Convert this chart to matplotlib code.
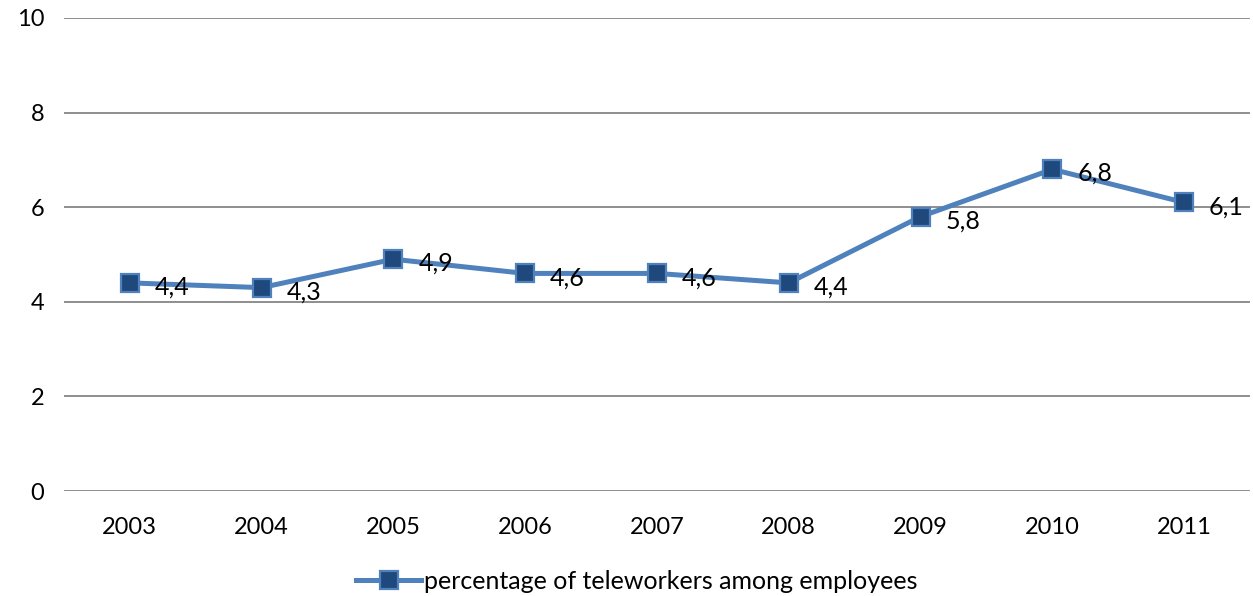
import matplotlib
matplotlib.use('Agg')
import matplotlib.pyplot as plt

plt.rcParams['font.family'] = ['Lato', 'DejaVu Sans']

years = ['2003', '2004', '2005', '2006', '2007', '2008', '2009', '2010', '2011']
share = [4.4, 4.3, 4.9, 4.6, 4.6, 4.4, 5.8, 6.8, 6.1]
yticks = [0, 2, 4, 6, 8, 10]
seriesName = 'percentage of teleworkers among employees'

lineColor = '#4F81BD'
markerColor = '#1F497D'
gridColor = '#868686'

fig = plt.figure(figsize=(12.53, 5.96), dpi=100)
ax = fig.add_axes([0.051, 0.176, 0.9466, 0.794])

x = list(range(len(years)))
ax.plot(x, share, color=lineColor, lw=3.6, marker='s', markersize=13,
        markerfacecolor=markerColor, markeredgecolor=lineColor,
        markeredgewidth=1.6, label=seriesName, zorder=3)

for xi, v in zip(x, share):
    ax.annotate(('%.1f' % v).replace('.', ','), (xi, v), xytext=(18, -3),
                textcoords='offset points', ha='left', va='center',
                fontsize=18, color='black', zorder=4)

ax.set_xlim(-0.5, len(years) - 0.5)
ax.set_ylim(0, 10)
ax.set_yticks(yticks)
ax.set_yticklabels([str(t) for t in yticks])
ax.set_xticks(x)
ax.set_xticklabels(years)

for y in yticks:
    ax.axhline(y, color=gridColor, lw=1.3, zorder=1)

for side in ['top', 'right', 'left', 'bottom']:
    ax.spines[side].set_visible(False)

ax.tick_params(axis='both', length=0, labelsize=17)
ax.tick_params(axis='y', pad=14)
ax.tick_params(axis='x', pad=19)

leg = fig.legend(loc='center', bbox_to_anchor=(0.508, 0.025), frameon=False,
                 fontsize=18, handlelength=2.6, handletextpad=0.1)

fig.savefig('out.png', dpi=100)
